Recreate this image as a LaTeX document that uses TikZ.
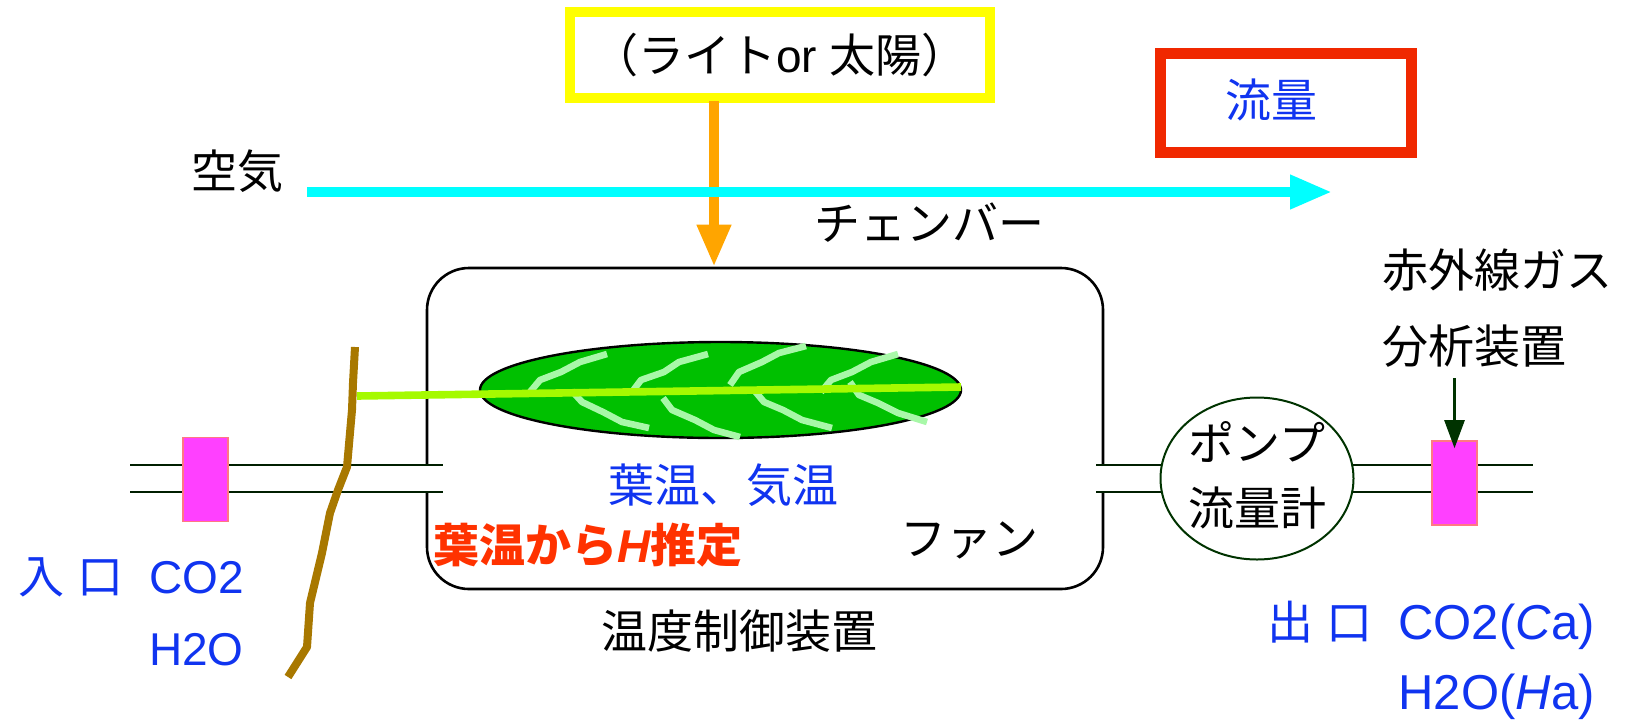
\documentclass[tikz,border=0pt]{standalone}
\usepackage{fontspec}
\setmainfont{Liberation Sans}
\newfontfamily\lat{Liberation Sans}
\newfontfamily\jp{Noto Sans CJK JP}
\usetikzlibrary{arrows.meta,shapes.geometric}

\definecolor{sunyellow}{RGB}{255,255,0}
\definecolor{lamporange}{RGB}{255,165,0}
\definecolor{aircyan}{RGB}{0,255,255}
\definecolor{flowred}{RGB}{240,40,0}
\definecolor{textblue}{RGB}{16,52,240}
\definecolor{textred}{RGB}{255,50,0}
\definecolor{leafgreen}{RGB}{0,192,0}
\definecolor{ribgreen}{RGB}{165,250,0}
\definecolor{veingreen}{RGB}{168,248,168}
\definecolor{stembrown}{RGB}{168,120,0}
\definecolor{cellpink}{RGB}{255,64,255}
\definecolor{celledge}{RGB}{255,120,130}
\definecolor{darkgreen}{RGB}{0,51,0}

\tikzset{
  every node/.style={inner sep=0pt, font=\fontsize{23}{28}\selectfont\jp},
  bluetext/.style={text=textblue},
  redtext/.style={text=textred, font=\fontsize{23}{28}\selectfont\jp\bfseries},
  bigarrow/.style={line width=5pt, -{Triangle[length=21pt,width=16pt]}},
  pipe/.style={draw=darkgreen!60!black, line width=1pt, double=white, double distance=12.5pt},
  cell/.style={draw=celledge, fill=cellpink, line width=0.8pt, minimum width=22.5pt, minimum height=42pt},
  vein/.style={veingreen, line width=3.3pt, line join=round},
}

\begin{document}
\begin{tikzpicture}[x=0.5pt,y=-0.5pt]
\useasboundingbox (0,0) rectangle (1627,724);

% light source and air stream
\node[draw=sunyellow, line width=5pt, minimum width=210pt, minimum height=43pt] (light) at (780,55) {（ライト{\lat or }太陽）};
\node[draw=flowred, line width=5.5pt, minimum width=125.5pt, minimum height=49.5pt] (flowbox) at (1285.5,102.5) {};
\node[bluetext] (flow) at (1271,100) {流量};
\coordinate (lamp) at (714,101);
\coordinate (airin) at (307,192);
\coordinate (airout) at (1332,192);
\node (air) at (237,171) {空気};

% chamber
\node[draw, line width=1.3pt, rounded corners=21pt, minimum width=338pt, minimum height=160.5pt] (chamber) at (765,428.5) {};
\draw[bigarrow, lamporange] (lamp) -- (lamp |- chamber.north);
\draw[bigarrow, aircyan] (airin) -- (airout);
\node (chambertext) at (929,223) {チェンバー};

% gas line
\coordinate (pipeA) at (130,478.5);
\coordinate (pipeB) at (443,478.5);
\coordinate (pipeC) at (1096,478.5);
\coordinate (pipeD) at (1533,478.5);
\draw[pipe] (pipeA) -- (pipeB);
\draw[pipe] (pipeC) -- (pipeD);
\node[cell] (inlet) at (205.5,479.5) {};
\node[cell] (outlet) at (1454.5,483) {};
\node[draw=darkgreen, line width=1pt, fill=white, ellipse, minimum width=96.5pt, minimum height=81pt] (pump) at (1257,478.5) {};
\node (pumptext) at (1257,442) {ポンプ};
\node (metertext) at (1257,508) {流量計};

% leaf on its stem
\coordinate (petiole) at (357,396);
\coordinate (leaftip) at (961,387);
\draw[fill=leafgreen, line width=1.2pt] (720.5,390) ellipse [x radius=120.25pt, y radius=24pt];
\draw[vein] (530,392) -- (540,380) -- (561,372) -- (580,362) -- (607,354);
\draw[vein] (632,392) -- (641,380) -- (664,372) -- (679,362) -- (708,354);
\draw[vein] (730,385) -- (739,372) -- (762,362) -- (779,353) -- (806,346);
\draw[vein] (821,392) -- (831,380) -- (852,372) -- (871,362) -- (898,354);
\draw[vein] (572,391) -- (582,402) -- (603,412) -- (622,422) -- (649,428);
\draw[vein] (663,398) -- (672,410) -- (695,420) -- (714,430) -- (740,437);
\draw[vein] (754,390) -- (764,402) -- (783,410) -- (802,420) -- (832,428);
\draw[vein] (850,382) -- (859,395) -- (878,403) -- (898,413) -- (927,422);
\draw[ribgreen, line width=3.8pt] (petiole) -- (leaftip);
\draw[stembrown, line width=4pt, line join=round] (355,347) -- (353,383) -- (352,410) -- (347,467)
  -- (338,490) -- (330,513) -- (322,553) -- (310,603) -- (307,647) -- (288,677);

% gas analyser
\node[anchor=west] (irga) at (1382,270) {赤外線ガス};
\node[anchor=west] (irgb) at (1382,346) {分析装置};
\coordinate (probe) at (1454.5,378);
\draw[darkgreen, line width=1.3pt, -{Triangle[length=14pt,width=10pt]}] (probe) -- ([yshift=-4pt]outlet.north);

% labels
\node[bluetext] (temps) at (723,485) {葉温、気温};
\node[redtext, anchor=west] (hest) at (433,545) {葉温から{\lat\bfseries\itshape H}推定};
\node (fan) at (969,540) {ファン};
\node (control) at (739,631) {温度制御装置};
\node[bluetext, anchor=east] (inco2) at (244,577) {入{\lat\ }口{\lat\ \ CO2}};
\node[bluetext, anchor=east] (inh2o) at (244,650) {\lat H2O};
\node[bluetext, anchor=east] (outco2) at (1595,625) {出{\lat\ }口{\lat\ \ \fontsize{24.5}{28}\selectfont CO2(\textit{C}a)}};
\node[bluetext, anchor=east] (outh2o) at (1595,697) {\lat\fontsize{24.5}{28}\selectfont H2O(\textit{H}a)};
\end{tikzpicture}
\end{document}
